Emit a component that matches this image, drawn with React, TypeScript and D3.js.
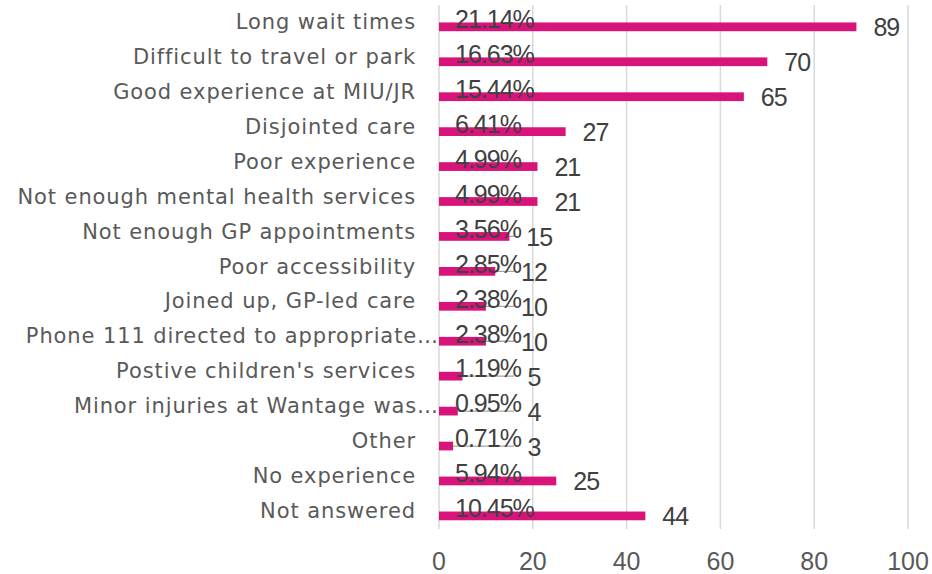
import React from "react";
import * as d3 from "d3";

const categories = [
  "Long wait times",
  "Difficult to travel or park",
  "Good experience at MIU/JR",
  "Disjointed care",
  "Poor experience",
  "Not enough mental health services",
  "Not enough GP appointments",
  "Poor accessibility",
  "Joined up, GP-led care",
  "Phone 111 directed to appropriate…",
  "Postive children's services",
  "Minor injuries at Wantage was…",
  "Other",
  "No experience",
  "Not answered",
];
const counts = [89, 70, 65, 27, 21, 21, 15, 12, 10, 10, 5, 4, 3, 25, 44];
const percentLabels = [
  "21.14%", "16.63%", "15.44%", "6.41%", "4.99%", "4.99%", "3.56%", "2.85%",
  "2.38%", "2.38%", "1.19%", "0.95%", "0.71%", "5.94%", "10.45%",
];
const xTicks = [0, 20, 40, 60, 80, 100];

const W = 932;
const H = 574;
const PINK = "#D8137A";
const CAT_FONT = "'DejaVu Sans', sans-serif";
const NUM_FONT = "'Liberation Sans', Arial, sans-serif";

export default function App() {
  const x = d3.scaleLinear().domain([0, 100]).range([439, 908]);
  const y = d3.scaleBand<string>().domain(categories).range([5, 529]).padding(0);
  const bw = y.bandwidth();
  const barH = bw * 0.25;

  return (
    <svg
      width={W}
      height={H}
      viewBox={`0 0 ${W} ${H}`}
      style={{ position: "absolute", left: 0, top: 0, background: "#fff" }}
    >
      {xTicks.map((t) => (
        <line
          key={"g" + t}
          x1={x(t)}
          x2={x(t)}
          y1={5}
          y2={529}
          stroke="#d9d9d9"
          strokeWidth={1.5}
        />
      ))}
      {xTicks.map((t) => (
        <text
          key={"t" + t}
          x={x(t)}
          y={570}
          textAnchor="middle"
          fontFamily={NUM_FONT}
          fontSize={25}
          fill="#595959"
        >
          {t}
        </text>
      ))}
      {categories.map((c, i) => {
        const y0 = y(c)!;
        const pinkY = y0 + bw * 0.5;
        const pinkC = pinkY + barH / 2;
        const greyC = y0 + bw * 0.375;
        const truncated = c.endsWith("…");
        const v = counts[i];
        const w = String(v).length * 13.9;
        const cx = Math.max(x(v) + 16 + w / 2, 534);
        return (
          <g key={c}>
            <line
              x1={x(0)}
              x2={x(16)}
              y1={pinkC}
              y2={pinkC}
              stroke="#a6a6a6"
              strokeWidth={1.3}
            />
            <rect x={x(0)} y={pinkY} width={x(v) - x(0)} height={barH} fill={PINK} />
            <text
              x={truncated ? 439 : 416}
              y={y0 + bw / 2 + 6.5}
              textAnchor="end"
              fontFamily={CAT_FONT}
              fontSize={21}
              letterSpacing={0.9}
              fill="#595959"
            >
              {c}
            </text>
            <text
              x={x(0) + 16}
              y={greyC + 10}
              textAnchor="start"
              fontFamily={NUM_FONT}
              fontSize={25}
              letterSpacing={-1}
              fill="#404040"
            >
              {percentLabels[i]}
            </text>
            <text
              x={cx}
              y={pinkC + 9.5}
              textAnchor="middle"
              fontFamily={NUM_FONT}
              fontSize={25}
              letterSpacing={-1}
              fill="#404040"
            >
              {v}
            </text>
          </g>
        );
      })}
    </svg>
  );
}
